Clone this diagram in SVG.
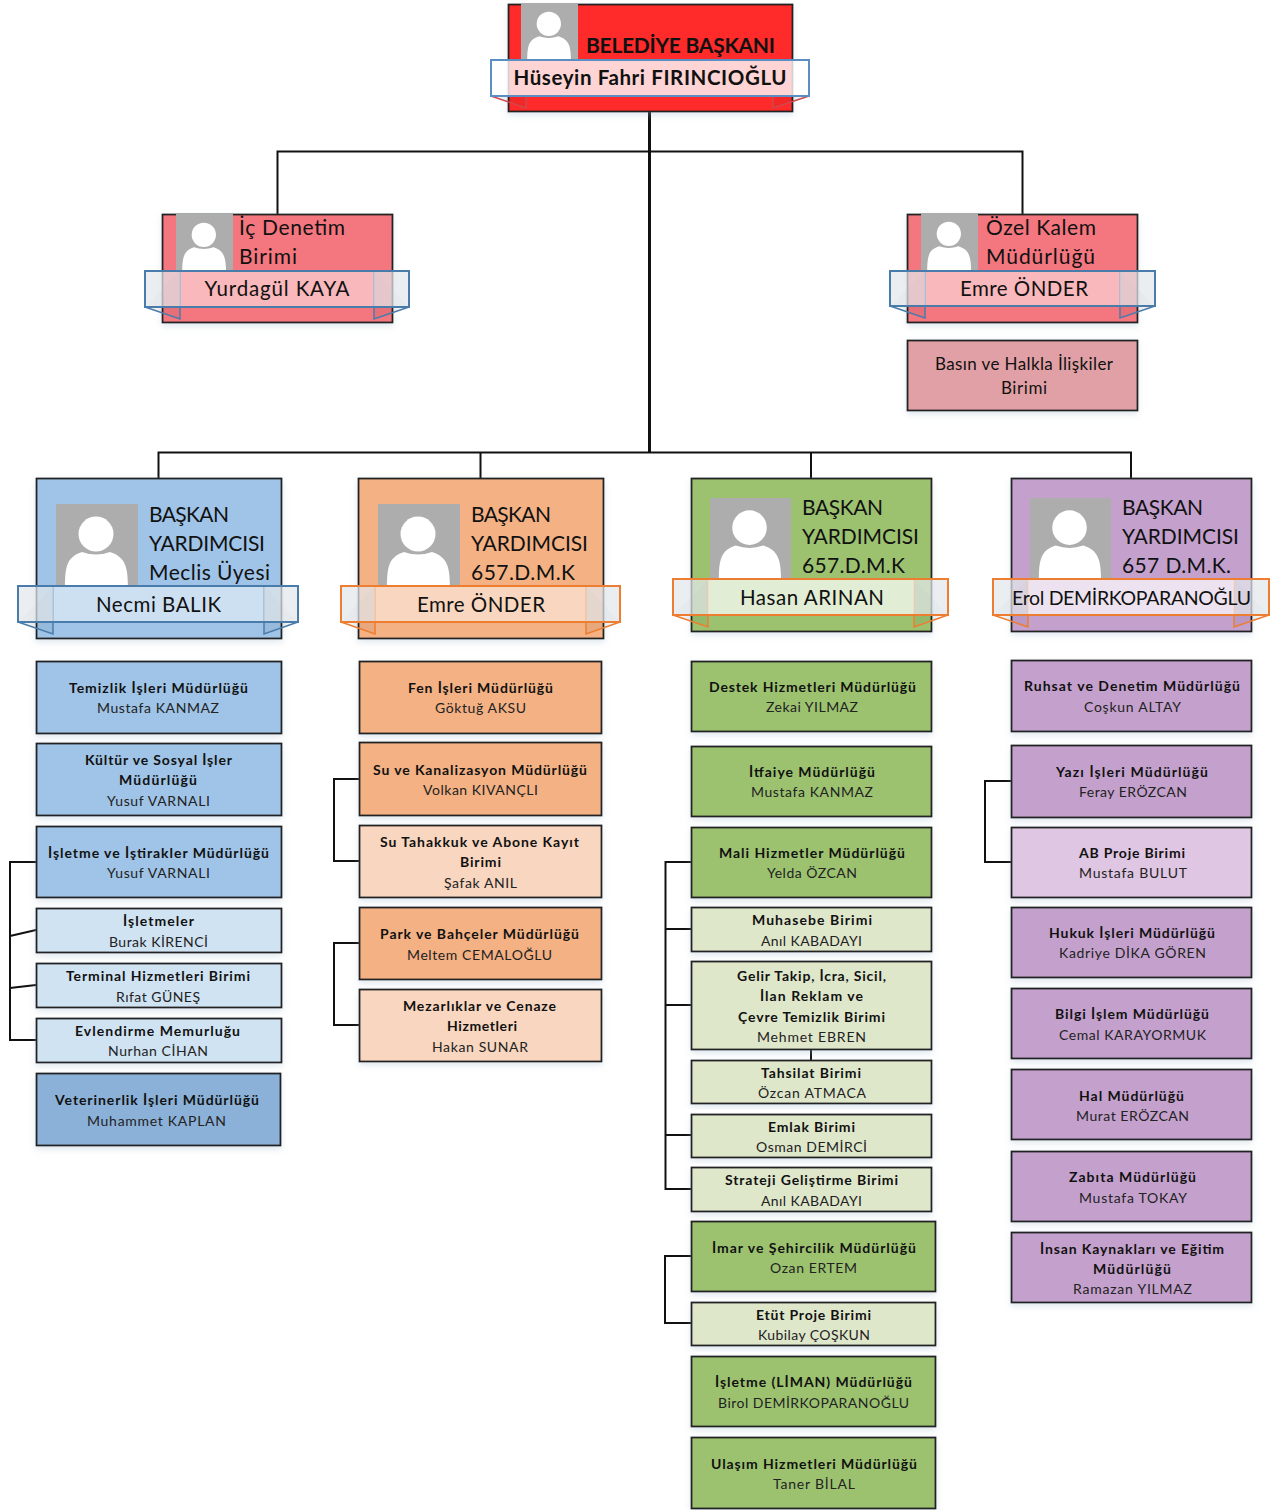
<svg xmlns="http://www.w3.org/2000/svg" width="1278" height="1510" viewBox="0 0 1278 1510">
<style>
text{font-family:"Lato","Carlito","Liberation Sans",sans-serif;fill:#111;text-anchor:middle}
.b{font-weight:700;font-size:14px}
.n{font-size:14px;fill:#222}
.h{font-size:21px;text-anchor:start}
.r{font-size:20.500px}
.s{font-size:17px}
.box{stroke:#222;stroke-width:1.800;filter:url(#sh);transform:translate(.5px,.5px)}
.blue{fill:#9fc4e7}.lblue{fill:#d0e3f3}.dblue{fill:#8bb1d8}
.or{fill:#f4b184}.lor{fill:#f8d6bf}
.gr{fill:#9cc270}.lgr{fill:#dfe7cb}
.pu{fill:#c4a1cd}.lpu{fill:#dfc6e2}
.conn{fill:none;stroke:#111;stroke-width:2}
.mid{fill:#fff;fill-opacity:.48}
.end{fill:#e3e7ec;fill-opacity:.72}
.rib{fill:none;stroke-width:2}
.fold{fill:#000;fill-opacity:.05;stroke-width:1.500}
.rb{stroke:#4a7cab}.ro{stroke:#ed7d31}
</style>
<defs>
<filter id="sh" x="-5%" y="-5%" width="110%" height="120%"><feDropShadow dx="0" dy="3" stdDeviation="3" flood-color="#9ab0c8" flood-opacity=".3"/></filter>
<filter id="soft"><feGaussianBlur stdDeviation=".6"/></filter>
<symbol id="person" viewBox="0 0 82 82">
<rect width="82" height="82" fill="#adadad"/>
<g filter="url(#soft)">
<circle cx="40" cy="30" r="17.500" fill="#fff"/>
<path d="M9 84C9 62 11 53 26 48Q40 53 54 48C69 53 72 62 72 84Z" fill="#fff"/>
</g>
</symbol>
</defs>

<g id="connectors" class="conn">
<path d="M649.500 111V452" style="stroke-width:3"/>
<path d="M277.500 214V151.500H1022.500V214"/>
<path d="M158.500 478V452.500H1131V478M480.500 452.500V478M811 452.500V478"/>
<path d="M36 862H10V1040H36M10 936L36 930M10 988L36 985"/>
<path d="M359 779H334V861H359M359 943H334V1025H359"/>
<path d="M691 862H665.500V1189H691M665.500 929H691M665.500 1005H691M665.500 1135H691M811 1049V1060"/>
<path d="M691 1256H665V1323H691"/>
<path d="M1011 781H985V862H1011"/>
</g>

<g id="mayor">
<rect class="box" x="508" y="4" width="284" height="107" fill="#ff2a2a"/>
<use href="#person" x="521" y="3" width="57" height="57"/>
<text x="586" y="53" font-weight="700" class="h" textLength="189">BELEDİYE BAŞKANI</text>
<path class="fold" d="M491 96L526 108V96M809 96L773 108V96" stroke="#d0484c"/>
<rect x="491" y="60" width="318" height="36" fill="#fff" fill-opacity=".8" stroke="#5b8fc4" stroke-width="2"/>
<text x="650" y="85" class="r" font-weight="700" textLength="273">Hüseyin Fahri FIRINCIOĞLU</text>
</g>

<g id="ic-denetim">
<rect class="box" x="162" y="214" width="230" height="108" fill="#f4777f"/>
<use href="#person" x="176" y="214" width="57" height="57"/>
<text x="239" y="235" class="h" textLength="106">İç Denetim</text>
<text x="239" y="264" class="h" textLength="58">Birimi</text>
<path class="fold rb" d="M145 307L180 319V271M409 307L374 319V271"/>
<rect x="145" y="271" width="35" height="36" class="end"/><rect x="374" y="271" width="35" height="36" class="end"/>
<rect x="180" y="271" width="194" height="36" class="mid"/>
<rect x="145" y="271" width="264" height="36" class="rib rb"/>
<text x="277" y="296" class="r" textLength="145">Yurdagül KAYA</text>
</g>

<g id="ozel-kalem">
<rect class="box" x="907" y="214" width="230" height="108" fill="#f4777f"/>
<use href="#person" x="921" y="213" width="57" height="57"/>
<text x="986" y="235" class="h" textLength="110">Özel Kalem</text>
<text x="986" y="264" class="h" textLength="109">Müdürlüğü</text>
<path class="fold rb" d="M890 306L925 318V271M1155 306L1120 318V271"/>
<rect x="890" y="271" width="35" height="35" class="end"/><rect x="1120" y="271" width="35" height="35" class="end"/>
<rect x="925" y="271" width="195" height="35" class="mid"/>
<rect x="890" y="271" width="265" height="35" class="rib rb"/>
<text x="1024" y="296" class="r" textLength="128">Emre ÖNDER</text>
</g>

<g id="basin">
<rect class="box" x="907" y="340" width="230" height="70" fill="#e0a0a5"/>
<text x="1024" y="370" class="s" textLength="178">Basın ve Halkla İlişkiler</text>
<text x="1024" y="394" class="s" textLength="46">Birimi</text>
</g>

<g id="vp-necmi">
<rect class="box" x="36" y="478" width="245" height="160" fill="#9fc4e7"/>
<use href="#person" x="56" y="504" width="82" height="82"/>
<text x="149" y="522" class="h" textLength="80">BAŞKAN</text>
<text x="149" y="551" class="h" textLength="116">YARDIMCISI</text>
<text x="149" y="580" class="h" textLength="121">Meclis Üyesi</text>
<path class="fold rb" d="M18 622L53 634V586M298 622L264 634V586"/>
<rect x="18" y="586" width="35" height="36" class="end"/><rect x="264" y="586" width="34" height="36" class="end"/>
<rect x="53" y="586" width="211" height="36" class="mid"/>
<rect x="18" y="586" width="280" height="36" class="rib rb"/>
<text x="158.500" y="612" class="r" textLength="125">Necmi BALIK</text>
</g>

<g id="vp-emre">
<rect class="box" x="358" y="478" width="245" height="160" fill="#f4b184"/>
<use href="#person" x="378" y="504" width="82" height="82"/>
<text x="471" y="522" class="h" textLength="80">BAŞKAN</text>
<text x="471" y="551" class="h" textLength="117">YARDIMCISI</text>
<text x="471" y="580" class="h" textLength="104">657.D.M.K</text>
<path class="fold ro" d="M341 622L375 634V586M620 622L586 634V586"/>
<rect x="341" y="586" width="34" height="36" class="end"/><rect x="586" y="586" width="34" height="36" class="end"/>
<rect x="375" y="586" width="211" height="36" class="mid"/>
<rect x="341" y="586" width="279" height="36" class="rib ro"/>
<text x="481" y="612" class="r" textLength="128">Emre ÖNDER</text>
</g>

<g id="vp-hasan">
<rect class="box" x="691" y="478" width="240" height="153" fill="#9cc270"/>
<use href="#person" x="710" y="498" width="81" height="81"/>
<text x="802" y="515" class="h" textLength="81">BAŞKAN</text>
<text x="802" y="544" class="h" textLength="117">YARDIMCISI</text>
<text x="802" y="573" class="h" textLength="103">657.D.M.K</text>
<path class="fold ro" d="M673 615L708 627V579M948 615L914 627V579"/>
<rect x="673" y="579" width="35" height="36" class="end"/><rect x="914" y="579" width="34" height="36" class="end"/>
<rect x="708" y="579" width="206" height="36" class="mid" style="fill-opacity:.7"/>
<rect x="673" y="579" width="275" height="36" class="rib ro"/>
<text x="812" y="605" class="r" textLength="144">Hasan ARINAN</text>
</g>

<g id="vp-erol">
<rect class="box" x="1011" y="478" width="240" height="153" fill="#c4a1cd"/>
<use href="#person" x="1030" y="498" width="81" height="81"/>
<text x="1122" y="515" class="h" textLength="81">BAŞKAN</text>
<text x="1122" y="544" class="h" textLength="117">YARDIMCISI</text>
<text x="1122" y="573" class="h" textLength="109">657 D.M.K.</text>
<path class="fold ro" d="M993 615L1028 627V579M1269 615L1234 627V579"/>
<rect x="993" y="579" width="35" height="36" class="end"/><rect x="1234" y="579" width="35" height="36" class="end"/>
<rect x="1028" y="579" width="206" height="36" class="mid" style="fill-opacity:.7"/>
<rect x="993" y="579" width="276" height="36" class="rib ro"/>
<text x="1131.500" y="605" style="font-size:19.500px" textLength="239">Erol DEMİRKOPARANOĞLU</text>
</g>

<g id="temizlik"><rect class="box blue" x="36" y="661" width="245" height="72"/><text class="b" x="158.500" y="693" textLength="179">Temizlik İşleri Müdürlüğü</text><text class="n" x="158" y="713" textLength="122">Mustafa KANMAZ</text></g>
<g id="kultur"><rect class="box blue" x="36" y="743" width="245" height="72"/><text class="b" x="158.500" y="765" textLength="147">Kültür ve Sosyal İşler</text><text class="b" x="158" y="785" textLength="78">Müdürlüğü</text><text class="n" x="158.500" y="806" textLength="103">Yusuf VARNALI</text></g>
<g id="isletme"><rect class="box blue" x="36" y="826" width="245" height="71"/><text class="b" x="158.500" y="858" textLength="221">İşletme ve İştirakler Müdürlüğü</text><text class="n" x="158.500" y="878" textLength="103">Yusuf VARNALI</text></g>
<g id="isletmeler"><rect class="box lblue" x="36" y="908" width="245" height="44"/><text class="b" x="158.500" y="926" textLength="71">İşletmeler</text><text class="n" x="158.500" y="947" textLength="99">Burak KİRENCİ</text></g>
<g id="terminal"><rect class="box lblue" x="36" y="963" width="245" height="44"/><text class="b" x="158" y="981" textLength="184">Terminal Hizmetleri Birimi</text><text class="n" x="158" y="1002" textLength="84">Rıfat GÜNEŞ</text></g>
<g id="evlendirme"><rect class="box lblue" x="36" y="1018" width="245" height="44"/><text class="b" x="157.500" y="1036" textLength="165">Evlendirme Memurluğu</text><text class="n" x="158" y="1056" textLength="100">Nurhan CİHAN</text></g>
<g id="veteriner"><rect class="box dblue" x="36" y="1073" width="244" height="72"/><text class="b" x="157" y="1105" textLength="204">Veterinerlik İşleri Müdürlüğü</text><text class="n" x="156.500" y="1126" textLength="139">Muhammet KAPLAN</text></g>

<g id="fen"><rect class="box or" x="359" y="661" width="242" height="72"/><text class="b" x="480.500" y="693" textLength="145">Fen İşleri Müdürlüğü</text><text class="n" x="480.500" y="713" textLength="91">Göktuğ AKSU</text></g>
<g id="su-kanal"><rect class="box or" x="359" y="742" width="242" height="73"/><text class="b" x="480" y="775" textLength="214">Su ve Kanalizasyon Müdürlüğü</text><text class="n" x="480.500" y="795" textLength="115">Volkan KIVANÇLI</text></g>
<g id="su-tahakkuk"><rect class="box lor" x="359" y="825" width="242" height="72"/><text class="b" x="479.500" y="847" textLength="199">Su Tahakkuk ve Abone Kayıt</text><text class="b" x="480.500" y="867" textLength="41">Birimi</text><text class="n" x="480.500" y="888" textLength="73">Şafak ANIL</text></g>
<g id="park"><rect class="box or" x="359" y="907" width="242" height="72"/><text class="b" x="479.500" y="939" textLength="199">Park ve Bahçeler Müdürlüğü</text><text class="n" x="479.500" y="960" textLength="145">Meltem CEMALOĞLU</text></g>
<g id="mezarlik"><rect class="box lor" x="359" y="989" width="242" height="72"/><text class="b" x="479.500" y="1011" textLength="153">Mezarlıklar ve Cenaze</text><text class="b" x="482" y="1031" textLength="70">Hizmetleri</text><text class="n" x="480" y="1052" textLength="96">Hakan SUNAR</text></g>

<g id="destek"><rect class="box gr" x="691" y="661" width="240" height="70"/><text class="b" x="812.500" y="692" textLength="207">Destek Hizmetleri Müdürlüğü</text><text class="n" x="812" y="712" textLength="92">Zekai YILMAZ</text></g>
<g id="itfaiye"><rect class="box gr" x="691" y="746" width="240" height="70"/><text class="b" x="812" y="777" textLength="126">İtfaiye Müdürlüğü</text><text class="n" x="812" y="797" textLength="122">Mustafa KANMAZ</text></g>
<g id="mali"><rect class="box gr" x="691" y="827" width="240" height="70"/><text class="b" x="812" y="858" textLength="186">Mali Hizmetler Müdürlüğü</text><text class="n" x="812" y="878" textLength="90">Yelda ÖZCAN</text></g>
<g id="muhasebe"><rect class="box lgr" x="691" y="907" width="240" height="44"/><text class="b" x="812" y="925" textLength="120">Muhasebe Birimi</text><text class="n" x="811.500" y="946" textLength="101">Anıl KABADAYI</text></g>
<g id="gelir"><rect class="box lgr" x="691" y="961" width="240" height="88"/><text class="b" x="811.500" y="981" textLength="149">Gelir Takip, İcra, Sicil,</text><text class="b" x="811.500" y="1001" textLength="103">İlan Reklam ve</text><text class="b" x="811.500" y="1022" textLength="147">Çevre Temizlik Birimi</text><text class="n" x="811.500" y="1042" textLength="109">Mehmet EBREN</text></g>
<g id="tahsilat"><rect class="box lgr" x="691" y="1060" width="240" height="43"/><text class="b" x="811" y="1078" textLength="100">Tahsilat Birimi</text><text class="n" x="812" y="1098" textLength="108">Özcan ATMACA</text></g>
<g id="emlak"><rect class="box lgr" x="691" y="1114" width="240" height="43"/><text class="b" x="811.500" y="1132" textLength="87">Emlak Birimi</text><text class="n" x="811.500" y="1152" textLength="111">Osman DEMİRCİ</text></g>
<g id="strateji"><rect class="box lgr" x="691" y="1167" width="240" height="44"/><text class="b" x="811.500" y="1185" textLength="173">Strateji Geliştirme Birimi</text><text class="n" x="811.500" y="1206" textLength="101">Anıl KABADAYI</text></g>
<g id="imar"><rect class="box gr" x="691" y="1221" width="244" height="70"/><text class="b" x="814" y="1253" textLength="204">İmar ve Şehircilik Müdürlüğü</text><text class="n" x="813.500" y="1273" textLength="87">Ozan ERTEM</text></g>
<g id="etut"><rect class="box lgr" x="691" y="1302" width="244" height="43"/><text class="b" x="813.500" y="1320" textLength="115">Etüt Proje Birimi</text><text class="n" x="814" y="1340" textLength="112">Kubilay ÇOŞKUN</text></g>
<g id="liman"><rect class="box gr" x="691" y="1356" width="244" height="70"/><text class="b" x="813.500" y="1387" textLength="197">İşletme (LİMAN) Müdürlüğü</text><text class="n" x="813.500" y="1408" textLength="191">Birol DEMİRKOPARANOĞLU</text></g>
<g id="ulasim"><rect class="box gr" x="691" y="1437" width="244" height="71"/><text class="b" x="814" y="1469" textLength="206">Ulaşım Hizmetleri Müdürlüğü</text><text class="n" x="814" y="1489" textLength="82">Taner BİLAL</text></g>

<g id="ruhsat"><rect class="box pu" x="1011" y="660" width="240" height="71"/><text class="b" x="1132" y="691" textLength="216">Ruhsat ve Denetim Müdürlüğü</text><text class="n" x="1132.500" y="712" textLength="97">Coşkun ALTAY</text></g>
<g id="yazi"><rect class="box pu" x="1011" y="745" width="240" height="72"/><text class="b" x="1132" y="777" textLength="152">Yazı İşleri  Müdürlüğü</text><text class="n" x="1133" y="797" textLength="108">Feray ERÖZCAN</text></g>
<g id="ab"><rect class="box lpu" x="1011" y="827" width="240" height="70"/><text class="b" x="1132" y="858" textLength="106">AB Proje Birimi</text><text class="n" x="1133" y="878" textLength="108">Mustafa BULUT</text></g>
<g id="hukuk"><rect class="box pu" x="1011" y="907" width="240" height="70"/><text class="b" x="1132" y="938" textLength="166">Hukuk İşleri Müdürlüğü</text><text class="n" x="1132.500" y="958" textLength="147">Kadriye  DİKA GÖREN</text></g>
<g id="bilgi"><rect class="box pu" x="1011" y="988" width="240" height="70"/><text class="b" x="1132" y="1019" textLength="154">Bilgi İşlem Müdürlüğü</text><text class="n" x="1132.500" y="1040" textLength="147">Cemal KARAYORMUK</text></g>
<g id="hal"><rect class="box pu" x="1011" y="1069" width="240" height="70"/><text class="b" x="1131.500" y="1101" textLength="105">Hal Müdürlüğü</text><text class="n" x="1132.500" y="1121" textLength="113">Murat ERÖZCAN</text></g>
<g id="zabita"><rect class="box pu" x="1011" y="1151" width="240" height="70"/><text class="b" x="1132.500" y="1182" textLength="127">Zabıta Müdürlüğü</text><text class="n" x="1133" y="1203" textLength="108">Mustafa TOKAY</text></g>
<g id="insan"><rect class="box pu" x="1011" y="1232" width="240" height="70"/><text class="b" x="1132" y="1254" textLength="184">İnsan Kaynakları ve Eğitim</text><text class="b" x="1132" y="1274" textLength="78">Müdürlüğü</text><text class="n" x="1132.500" y="1294" textLength="119">Ramazan YILMAZ</text></g>
</svg>
